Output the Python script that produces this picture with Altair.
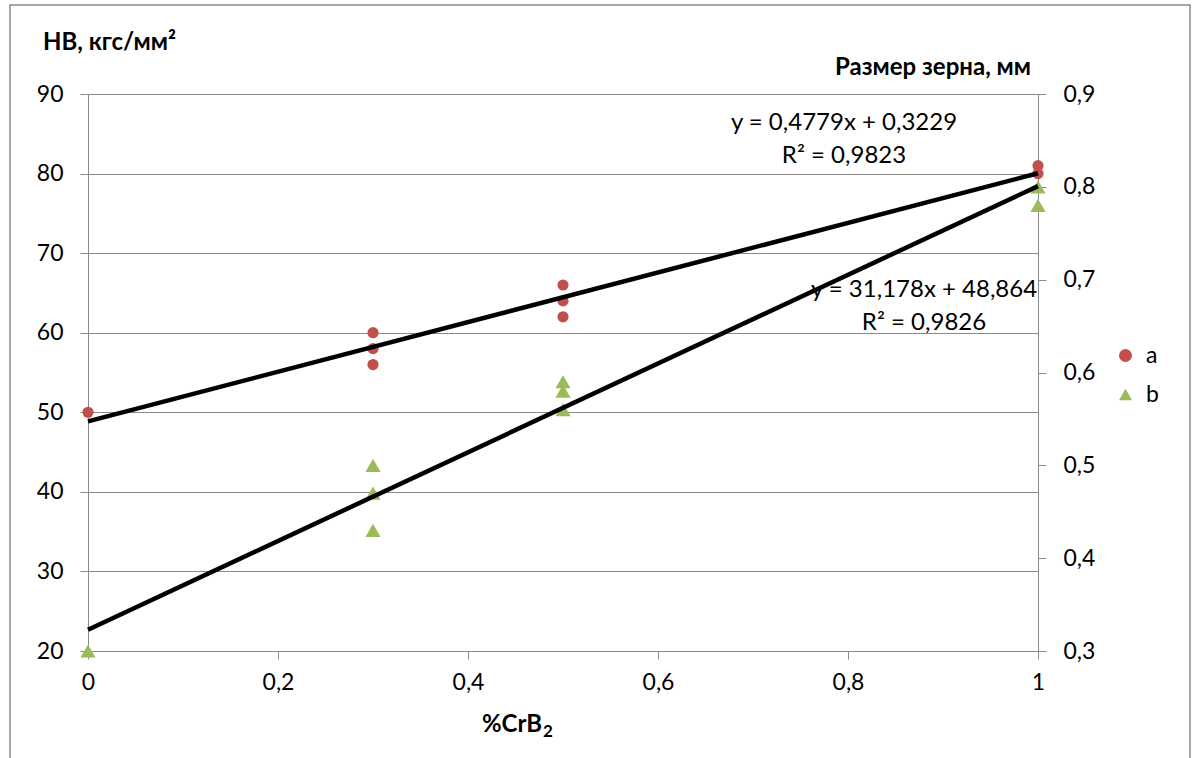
import altair as alt
import pandas as pd

# Samples: CrB2 fraction vs. Brinell hardness (a) and grain size (b)
cr_a = [0, 0.3, 0.3, 0.3, 0.5, 0.5, 0.5, 1, 1]
hb_a = [50, 60, 58, 56, 66, 64, 62, 81, 80]
cr_b = [0, 0.3, 0.3, 0.3, 0.5, 0.5, 0.5, 1, 1]
grain_b = [0.30, 0.50, 0.47, 0.43, 0.59, 0.58, 0.56, 0.80, 0.78]

# Linear trend lines: slope, intercept, R^2
trend_a = {"slope": 31.178, "intercept": 48.864, "r2": 0.9826}
trend_b = {"slope": 0.4779, "intercept": 0.3229, "r2": 0.9823}

x_ticks = [0, 0.2, 0.4, 0.6, 0.8, 1]
hb_ticks = [20, 30, 40, 50, 60, 70, 80, 90]
grain_ticks = [0.3, 0.4, 0.5, 0.6, 0.7, 0.8, 0.9]

FONT = "Lato, 'Open Sans', 'DejaVu Sans', sans-serif"
GRAY = "#8a8a8a"
RED = "#C0504D"
GREEN = "#9BBB59"
W, H = 950, 557
TICK_FS = 23


def comma(v):
    return str(v).replace(".", ",")


def eq_lines(t):
    return [f"y = {comma(t['slope'])}x + {comma(t['intercept'])}", f"R² = {comma(t['r2'])}"]


df_a = pd.DataFrame({"x": cr_a, "v": hb_a, "series": "a"})
df_b = pd.DataFrame({"x": cr_b, "v": grain_b, "series": "b"})
ends = pd.DataFrame({"x": [0, 1]})

x_enc = alt.X(
    "x:Q",
    scale=alt.Scale(domain=[0, 1], nice=False, zero=False),
    axis=alt.Axis(
        values=x_ticks, title=None, grid=False, labelFlush=False,
        labelExpr="replace(format(datum.value, '.1~f'), '.', ',')",
        tickSize=8, labelPadding=12, domainColor=GRAY, tickColor=GRAY,
        labelFontSize=TICK_FS, labelFont=FONT, labelColor="black",
    ),
)

color_scale = alt.Scale(domain=["a", "b"], range=[RED, GREEN])
shape_scale = alt.Scale(domain=["a", "b"], range=["circle", "triangle-up"])
legend = alt.Legend(
    title=None, orient="none", legendX=1026, legendY=250,
    labelFontSize=TICK_FS, labelFont=FONT, labelColor="black",
    symbolSize=170, symbolStrokeWidth=0, labelOffset=9, rowPadding=15,
)

hb_scale = alt.Scale(domain=[20, 90], nice=False, zero=False)
grain_scale = alt.Scale(domain=[0.3, 0.9], nice=False, zero=False)

hb_axis = alt.Axis(
    values=hb_ticks, title=None, grid=True, gridColor=GRAY, gridWidth=1,
    labelFlush=False, tickSize=8, labelPadding=17, domainColor=GRAY, tickColor=GRAY,
    labelFontSize=TICK_FS, labelFont=FONT, labelColor="black",
)
grain_axis = alt.Axis(
    orient="right", values=grain_ticks, title=None, grid=False, labelFlush=False,
    labelExpr="replace(format(datum.value, '.1f'), '.', ',')",
    tickSize=8, labelPadding=17, domainColor=GRAY, tickColor=GRAY,
    labelFontSize=TICK_FS, labelFont=FONT, labelColor="black",
)

# Hardness series (left axis)
points_a = alt.Chart(df_a).mark_point(filled=True, size=125, opacity=1).encode(
    x=x_enc,
    y=alt.Y("v:Q", scale=hb_scale, axis=hb_axis),
    color=alt.Color("series:N", scale=color_scale, legend=legend),
    shape=alt.Shape("series:N", scale=shape_scale, legend=legend),
)
line_a = alt.Chart(ends).transform_calculate(
    v=f"{trend_a['slope']} * datum.x + {trend_a['intercept']}"
).mark_line(color="black", strokeWidth=4.5).encode(x="x:Q", y=alt.Y("v:Q", scale=hb_scale))

# Grain-size series (right axis)
points_b = alt.Chart(df_b).mark_point(filled=True, size=230, opacity=1).encode(
    x=x_enc,
    y=alt.Y("v:Q", scale=grain_scale, axis=grain_axis),
    color=alt.Color("series:N", scale=color_scale, legend=legend),
    shape=alt.Shape("series:N", scale=shape_scale, legend=legend),
)
line_b = alt.Chart(ends).transform_calculate(
    v=f"{trend_b['slope']} * datum.x + {trend_b['intercept']}"
).mark_line(color="black", strokeWidth=4.5).encode(x="x:Q", y=alt.Y("v:Q", scale=grain_scale))


def label(text, x, y, align="center", bold=False, size=24):
    return alt.Chart(pd.DataFrame({"t": [text]})).mark_text(
        align=align, baseline="alphabetic", font=FONT, fontSize=size,
        fontWeight="bold" if bold else "normal", color="black",
    ).encode(text="t:N", x=alt.value(x), y=alt.value(y))


eq_a = eq_lines(trend_a)
eq_b = eq_lines(trend_b)
texts = [
    label("HB, кгс/мм²", -45, -44, align="left", bold=True, size=24),
    label("Размер зерна, мм", 943, -19, align="right", bold=True, size=24),
    label("%CrB", 454, 638, align="right", bold=True, size=24),
    label("2", 455, 643, align="left", bold=True, size=17),
    label(eq_b[0], 756, 36),
    label(eq_b[1], 756, 69),
    label(eq_a[0], 836, 203),
    label(eq_a[1], 836, 236),
]

frame = alt.Chart(pd.DataFrame({"k": [0]})).mark_rect(
    fill="transparent", stroke=GRAY, strokeWidth=1.5
).encode(x=alt.value(-78), x2=alt.value(1102), y=alt.value(-89), y2=alt.value(720))

left = alt.layer(frame, points_a, line_a, *texts)
right = alt.layer(points_b, line_b)

chart = alt.layer(left, right).resolve_scale(y="independent").properties(
    width=W, height=H,
    autosize=alt.AutoSizeParams(type="none"),
    padding={"left": 88, "top": 94, "right": 160, "bottom": 107},
).configure_view(stroke=None).configure(background="white")

chart.save("out.html", embed_options={"renderer": "svg", "actions": False})
